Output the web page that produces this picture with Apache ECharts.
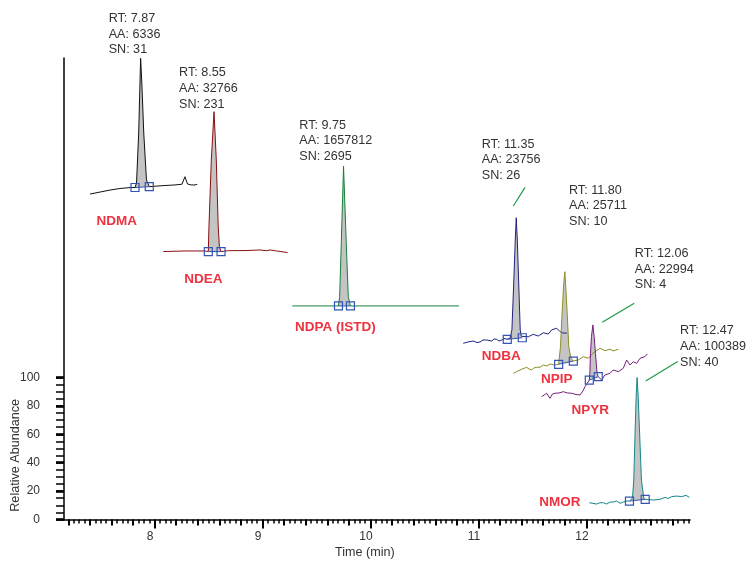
<!DOCTYPE html>
<html>
<head>
<meta charset="utf-8">
<script src="https://cdn.jsdelivr.net/npm/echarts@6/dist/echarts.min.js"></script>
<style>
  html, body { margin: 0; padding: 0; background: #ffffff; }
  #chart { width: 747px; height: 562px; }
</style>
</head>
<body>
<div id="chart"></div>
<script>
// ---- Peak table ----
const compounds = ['NDMA', 'NDEA', 'NDPA (ISTD)', 'NDBA', 'NPIP', 'NPYR', 'NMOR'];
const retentionTimes = [7.87, 8.55, 9.75, 11.35, 11.80, 12.06, 12.47];
const peakAreas = [6336, 32766, 1657812, 23756, 25711, 22994, 100389];
const signalToNoise = [31, 231, 2695, 26, 10, 4, 40];

// ---- Stacked chromatogram traces (time in min, stacked relative abundance) ----
const ndmaTime = [7.401, 7.494, 7.586, 7.679, 7.781, 7.818, 7.832, 7.852, 7.864, 7.870, 7.881, 7.899, 7.924, 7.950, 8.077, 8.188, 8.253, 8.281, 8.304, 8.337, 8.374, 8.395];
const ndmaAbundance = [229.2, 230.6, 232.0, 233.1, 233.8, 233.8, 237.0, 272.2, 307.4, 324.8, 307.4, 272.2, 239.1, 234.4, 235.1, 235.6, 236.1, 241.4, 236.3, 235.6, 235.6, 236.1];
const ndmaPeakBounds = [5, 13];

const ndeaTime = [8.080, 8.281, 8.466, 8.497, 8.503, 8.525, 8.550, 8.571, 8.589, 8.600, 8.615, 8.682, 8.837, 8.976, 9.038, 9.069, 9.131, 9.231];
const ndeaAbundance = [188.7, 189.1, 189.1, 188.7, 206.2, 253.2, 287.2, 253.2, 206.2, 192.0, 188.7, 189.3, 189.4, 189.8, 189.3, 189.8, 189.1, 188.0];
const ndeaPeakBounds = [3, 10];

const ndpaTime = [9.275, 9.703, 9.714, 9.729, 9.750, 9.775, 9.794, 9.814, 10.820];
const ndpaAbundance = [150.4, 150.4, 156.9, 194.5, 248.9, 194.5, 156.9, 150.4, 150.4];
const ndpaPeakBounds = [1, 7];

const ndbaTime = [10.859, 10.903, 10.952, 10.986, 11.014, 11.042, 11.076, 11.123, 11.144, 11.169, 11.190, 11.215, 11.236, 11.267, 11.293, 11.310, 11.328, 11.341, 11.350, 11.360, 11.372, 11.387, 11.397, 11.406, 11.462, 11.508, 11.554, 11.601, 11.647, 11.678, 11.725, 11.755, 11.783, 11.820];
const ndbaAbundance = [124.1, 125.0, 125.7, 124.6, 125.0, 126.4, 126.4, 125.7, 127.1, 126.9, 125.7, 126.4, 127.5, 126.9, 127.8, 133.5, 168.7, 196.8, 212.5, 196.8, 168.7, 133.5, 129.0, 128.0, 128.7, 130.4, 129.2, 131.5, 130.6, 133.5, 134.7, 132.3, 131.3, 131.3];
const ndbaPeakBounds = [13, 23];

const npipTime = [11.323, 11.366, 11.401, 11.447, 11.468, 11.493, 11.514, 11.540, 11.570, 11.601, 11.635, 11.663, 11.700, 11.743, 11.760, 11.775, 11.788, 11.800, 11.809, 11.822, 11.837, 11.857, 11.879, 11.925, 11.971, 12.018, 12.052, 12.089, 12.126, 12.172, 12.219, 12.249, 12.296];
const npipAbundance = [102.9, 104.6, 105.8, 107.2, 106.0, 105.3, 106.7, 107.2, 107.2, 108.8, 108.1, 109.5, 108.8, 109.3, 121.7, 145.2, 163.9, 174.5, 163.9, 145.2, 121.7, 113.7, 111.6, 112.3, 114.7, 113.5, 116.5, 118.6, 120.6, 118.9, 119.9, 118.7, 119.9];
const npipPeakBounds = [13, 22];

const npyrTime = [11.586, 11.632, 11.663, 11.686, 11.709, 11.746, 11.786, 11.825, 11.864, 11.904, 11.941, 11.968, 11.987, 12.027, 12.032, 12.038, 12.047, 12.060, 12.072, 12.084, 12.099, 12.110, 12.142, 12.172, 12.219, 12.249, 12.296, 12.342, 12.373, 12.404, 12.435, 12.466, 12.497, 12.543, 12.564];
const npyrAbundance = [86.5, 88.9, 85.3, 88.4, 88.9, 89.1, 90.0, 89.1, 88.9, 88.0, 87.7, 90.5, 93.5, 98.2, 103.0, 117.1, 128.7, 137.0, 128.7, 117.1, 103.0, 100.6, 98.2, 101.8, 103.0, 105.3, 104.1, 106.5, 112.3, 108.8, 111.1, 110.0, 113.5, 114.7, 116.6];
const npyrPeakBounds = [13, 21];

const nmorTime = [12.027, 12.096, 12.126, 12.157, 12.188, 12.219, 12.249, 12.280, 12.311, 12.342, 12.367, 12.399, 12.427, 12.439, 12.452, 12.461, 12.470, 12.480, 12.492, 12.510, 12.533, 12.545, 12.620, 12.682, 12.728, 12.756, 12.790, 12.837, 12.883, 12.923, 12.955];
const nmorAbundance = [11.8, 10.9, 11.8, 11.8, 10.9, 12.3, 12.3, 13.0, 11.4, 12.3, 13.0, 13.0, 15.1, 27.8, 63.0, 86.5, 100.0, 86.5, 63.0, 27.8, 14.4, 14.2, 13.7, 14.2, 15.6, 14.8, 16.1, 16.5, 16.1, 17.0, 15.6];
const nmorPeakBounds = [11, 21];

// ---- Axis ticks and labels ----
const xTickLabels = [8, 9, 10, 11, 12];
const yTickLabels = [0, 20, 40, 60, 80, 100];

// ---- Styling / layout ----
const traces = [
  { time: ndmaTime, abundance: ndmaAbundance, bounds: ndmaPeakBounds, color: '#111111' },
  { time: ndeaTime, abundance: ndeaAbundance, bounds: ndeaPeakBounds, color: '#8a1010' },
  { time: ndpaTime, abundance: ndpaAbundance, bounds: ndpaPeakBounds, color: '#17803a' },
  { time: ndbaTime, abundance: ndbaAbundance, bounds: ndbaPeakBounds, color: '#22227e' },
  { time: npipTime, abundance: npipAbundance, bounds: npipPeakBounds, color: '#8e8e24' },
  { time: npyrTime, abundance: npyrAbundance, bounds: npyrPeakBounds, color: '#7a1f7e' },
  { time: nmorTime, abundance: nmorAbundance, bounds: nmorPeakBounds, color: '#15878a' }
];
// pixel offsets of each peak annotation (text top-left, optional leader line) from the apex
const annotationLayout = [
  { text: [-32, -47.8] },
  { text: [-35, -46.9] },
  { text: [-44.2, -48.8] },
  { text: [-34.5, -81.5], leader: [8.8, -30.4, -2.9, -11.7] },
  { text: [4.2, -89.5] },
  { text: [42, -79.2], leader: [41.4, -21.7, 9.4, -2.7] },
  { text: [43, -54.5], leader: [40.6, -16, 8.6, 3.4] }
];
// centre of each compound name, in axis units
const nameAnchors = [
  [7.648, 210.2], [8.452, 169.4], [9.674, 135.1], [11.211, 114.6],
  [11.725, 98.9], [12.035, 76.9], [11.754, 11.8]
];

const FONT = '"Liberation Sans", Arial, Helvetica, sans-serif';
const TEXT_COLOR = '#333333';
const NAME_COLOR = '#ee3340';
const BOUND_COLOR = '#3354b4';
const LEADER_COLOR = '#1f9a48';
const FILL_COLOR = '#c4c4c4';

const X_MIN = 7.16, X_MAX = 12.96, Y_MIN = 0, Y_MAX = 325;
const gridBox = { left: 64, right: 57, top: 58, bottom: 42.5, containLabel: false, outerBoundsMode: 'none' };

function stepValues(start, end, step) {
  const out = [];
  const n = Math.round((end - start) / step);
  for (let i = 0; i <= n; i++) out.push(Math.round((start + i * step) * 1000) / 1000);
  return out;
}
const xMinorTicks = stepValues(7.2, 12.95, 0.05);
const xMidTicks = stepValues(7.2, 12.8, 0.2);
const yMinorTicks = stepValues(0, 100, 5);

const hiddenY = (gridIndex) => ({
  type: 'value', gridIndex, min: Y_MIN, max: Y_MAX, show: false
});

const xAxes = [
  {
    type: 'value', gridIndex: 0, min: X_MIN, max: X_MAX, position: 'bottom',
    axisLine: { show: true, onZero: false, lineStyle: { color: '#000', width: 1.5 } },
    axisTick: { show: true, customValues: xMinorTicks, length: 4, lineStyle: { color: '#000', width: 1.5 } },
    axisLabel: { show: false }, splitLine: { show: false }
  },
  {
    type: 'value', gridIndex: 1, min: X_MIN, max: X_MAX, position: 'bottom',
    axisLine: { show: false, onZero: false },
    axisTick: { show: true, customValues: xMidTicks, length: 6, lineStyle: { color: '#000', width: 2 } },
    axisLabel: { show: false }, splitLine: { show: false }
  },
  {
    type: 'value', gridIndex: 2, min: X_MIN, max: X_MAX, position: 'bottom',
    axisLine: { show: false, onZero: false },
    axisTick: { show: true, customValues: xTickLabels, length: 9, lineStyle: { color: '#000', width: 2 } },
    axisLabel: {
      show: true, customValues: xTickLabels, margin: 11, padding: [0, 9, 0, 0],
      color: TEXT_COLOR, fontSize: 12, fontFamily: FONT, formatter: (v) => String(v)
    },
    splitLine: { show: false }
  }
];

const yAxes = [
  {
    type: 'value', gridIndex: 0, min: Y_MIN, max: Y_MAX, position: 'left',
    axisLine: { show: true, onZero: false, lineStyle: { color: '#000', width: 1.5 } },
    axisTick: { show: true, customValues: yMinorTicks, length: 8, lineStyle: { color: '#000', width: 1.5 } },
    axisLabel: {
      show: true, customValues: yTickLabels, margin: 24,
      color: TEXT_COLOR, fontSize: 12, fontFamily: FONT, formatter: (v) => String(v)
    },
    splitLine: { show: false }
  },
  {
    type: 'value', gridIndex: 1, min: Y_MIN, max: Y_MAX, position: 'left',
    axisLine: { show: false, onZero: false },
    axisTick: { show: true, customValues: yTickLabels, length: 8, lineStyle: { color: '#000', width: 2.6 } },
    axisLabel: { show: false }, splitLine: { show: false }
  },
  hiddenY(2)
];

const series = [];
traces.forEach((tr) => {
  const pts = tr.time.map((t, k) => [t, tr.abundance[k]]);
  const peakPts = pts.slice(tr.bounds[0], tr.bounds[1] + 1);

  // integrated peak area, closed by the straight integration baseline
  series.push({
    type: 'custom', coordinateSystem: 'cartesian2d', xAxisIndex: 0, yAxisIndex: 0,
    silent: true, z: 1, data: peakPts,
    renderItem: (params, api) => {
      if (params.dataIndex !== 0) return null;
      return {
        type: 'polygon',
        shape: { points: peakPts.map((p) => api.coord(p)) },
        style: { fill: FILL_COLOR, stroke: null }
      };
    }
  });

  // chromatogram trace
  series.push({
    type: 'line', xAxisIndex: 0, yAxisIndex: 0, data: pts,
    symbol: 'none', showSymbol: false, silent: true, z: 2,
    lineStyle: { color: tr.color, width: 1 }
  });

  // integration boundary markers
  series.push({
    type: 'line', xAxisIndex: 0, yAxisIndex: 0,
    data: [peakPts[0], peakPts[peakPts.length - 1]],
    symbol: 'rect', symbolSize: 8, showSymbol: true, silent: true, z: 3,
    lineStyle: { color: BOUND_COLOR, width: 1 },
    itemStyle: { color: 'rgba(255,255,255,0)', borderColor: BOUND_COLOR, borderWidth: 1.2 }
  });
});

// peak annotations (RT / AA / SN) anchored at each apex
const apexData = traces.map((tr, i) => [retentionTimes[i], Math.max.apply(null, tr.abundance)]);
series.push({
  type: 'custom', coordinateSystem: 'cartesian2d', xAxisIndex: 0, yAxisIndex: 0,
  silent: true, z: 5, data: apexData,
  renderItem: (params, api) => {
    const i = params.dataIndex;
    const c = api.coord([api.value(0), api.value(1)]);
    const lay = annotationLayout[i];
    const children = [{
      type: 'text',
      x: c[0] + lay.text[0], y: c[1] + lay.text[1],
      style: {
        text: 'RT: ' + retentionTimes[i].toFixed(2) + '\nAA: ' + peakAreas[i] + '\nSN: ' + signalToNoise[i],
        fill: TEXT_COLOR, font: '12.6px ' + FONT, lineHeight: 15.7,
        align: 'left', verticalAlign: 'top'
      }
    }];
    if (lay.leader) {
      children.push({
        type: 'line',
        shape: {
          x1: c[0] + lay.leader[0], y1: c[1] + lay.leader[1],
          x2: c[0] + lay.leader[2], y2: c[1] + lay.leader[3]
        },
        style: { stroke: LEADER_COLOR, lineWidth: 1.2 }
      });
    }
    return { type: 'group', children };
  }
});

// compound names
series.push({
  type: 'custom', coordinateSystem: 'cartesian2d', xAxisIndex: 0, yAxisIndex: 0,
  silent: true, z: 5, data: nameAnchors,
  renderItem: (params, api) => {
    const c = api.coord([api.value(0), api.value(1)]);
    return {
      type: 'text', x: c[0], y: c[1],
      style: {
        text: compounds[params.dataIndex], fill: NAME_COLOR,
        font: 'bold 13.5px ' + FONT, align: 'center', verticalAlign: 'middle'
      }
    };
  }
});

const chart = echarts.init(document.getElementById('chart'), null, { renderer: 'canvas' });
chart.setOption({
  animation: false,
  backgroundColor: '#ffffff',
  grid: [Object.assign({}, gridBox), Object.assign({}, gridBox), Object.assign({}, gridBox)],
  xAxis: xAxes,
  yAxis: yAxes,
  series,
  graphic: [
    {
      type: 'text', left: 9.5, top: 399, rotation: Math.PI / 2,
      style: { text: 'Relative Abundance', fill: TEXT_COLOR, font: '12.6px ' + FONT }
    },
    {
      type: 'text', left: 335, top: 546,
      style: { text: 'Time (min)', fill: TEXT_COLOR, font: '12.6px ' + FONT }
    }
  ]
});
</script>
</body>
</html>
